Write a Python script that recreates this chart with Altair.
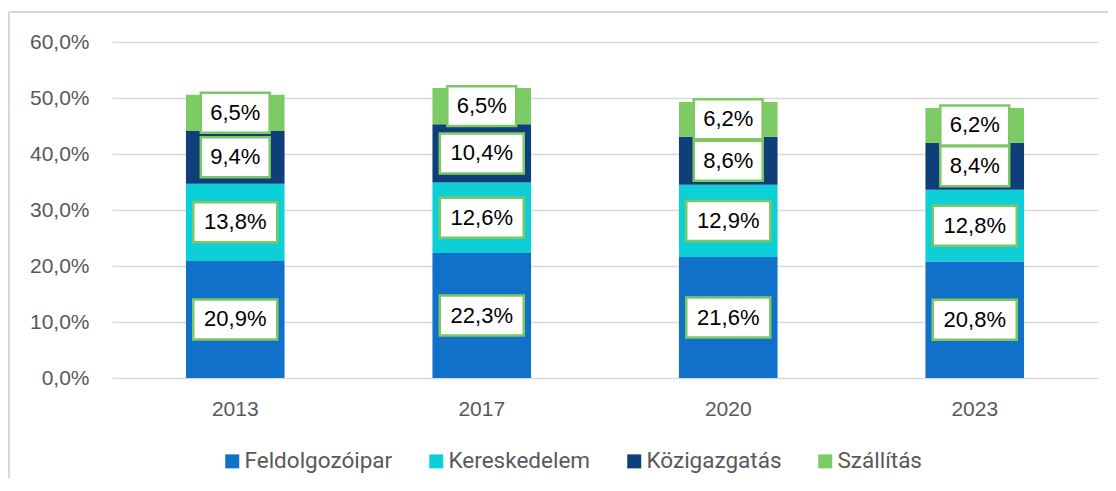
import altair as alt
import pandas as pd

years = ["2013", "2017", "2020", "2023"]
sectors = ["Feldolgozóipar", "Kereskedelem", "Közigazgatás", "Szállítás"]
feldolgozoipar = [20.9, 22.3, 21.6, 20.8]
kereskedelem = [13.8, 12.6, 12.9, 12.8]
kozigazgatas = [9.4, 10.4, 8.6, 8.4]
szallitas = [6.5, 6.5, 6.2, 6.2]
colors = ["#1170C8", "#0DCFD8", "#0E3F78", "#7DCB64"]
y_ticks = [0, 10, 20, 30, 40, 50, 60]

series = [feldolgozoipar, kereskedelem, kozigazgatas, szallitas]
rows = []
for si, (name, vals) in enumerate(zip(sectors, series)):
    for y, v in zip(years, vals):
        rows.append({"year": y, "sector": name, "order": si, "value": v})
df = pd.DataFrame(rows)

FONT = "Liberation Sans"
GRID = "#D9D9D9"

base = alt.Chart(df).transform_stack(
    stack="value", groupby=["year"], sort=[alt.SortField("order")], as_=["y0", "y1"]
).transform_calculate(
    mid="(datum.y0 + datum.y1) / 2",
    label="replace(format(datum.value, '.1f'), '.', ',') + '%'",
    box="length(replace(format(datum.value, '.1f'), '.', ',')) > 3 ? 'M-1,-0.476L1,-0.476L1,0.476L-1,0.476Z' : 'M-0.82,-0.476L0.82,-0.476L0.82,0.476L-0.82,0.476Z'",
)

x_enc = alt.X(
    "year:N",
    title=None,
    sort=years,
    scale=alt.Scale(paddingInner=0.6, paddingOuter=0.3),
    axis=alt.Axis(
        labelAngle=0, domain=False, ticks=False, labelPadding=20,
        labelFont=FONT, labelFontSize=21, labelColor="#595959",
    ),
)

bars = base.mark_bar(stroke=None).encode(
    x=x_enc,
    y=alt.Y(
        "y0:Q",
        title=None,
        scale=alt.Scale(domain=[0, 60], nice=False),
        axis=alt.Axis(
            values=y_ticks, domain=False, ticks=False, labelPadding=23,
            gridColor=GRID, gridWidth=1.5,
            labelFont=FONT, labelFontSize=21, labelColor="#595959",
            labelExpr="replace(format(datum.value, '.1f'), '.', ',') + '%'",
        ),
    ),
    y2="y1:Q",
    color=alt.Color(
        "sector:N",
        scale=alt.Scale(domain=sectors, range=colors),
        legend=alt.Legend(
            title=None, orient="none", direction="horizontal", columns=4,
            legendX=109, legendY=408,
            symbolType="square", symbolSize=196, symbolStrokeWidth=0,
            labelFont="Roboto", labelFontSize=22.5, labelColor="#595959",
            labelOffset=1, columnPadding=32,
        ),
    ),
    order=alt.Order("order:Q"),
)

boxes = base.mark_point(
    filled=True, fill="white", stroke="#7DC864", strokeWidth=2.5, opacity=1, size=7056
).encode(
    x=alt.X("year:N", sort=years),
    y=alt.Y("mid:Q"),
    shape=alt.Shape("box:N", scale=None),
)

texts = base.mark_text(font=FONT, fontSize=22, color="black", baseline="middle").encode(
    x=alt.X("year:N", sort=years),
    y=alt.Y("mid:Q"),
    text="label:N",
)

frame_top = alt.Chart(df).mark_rule(color=GRID, strokeWidth=1.5).encode(
    x=alt.value(-103), x2=alt.value(1010), y=alt.value(-30)
)
frame_left = alt.Chart(df).mark_rule(color=GRID, strokeWidth=1.5).encode(
    x=alt.value(-103), y=alt.value(-30), y2=alt.value(460)
)

chart = alt.layer(frame_top, frame_left, bars, boxes, texts).properties(
    width=986,
    height=336,
    autosize=alt.AutoSizeParams(type="none"),
    padding={"left": 104, "top": 34, "right": 10, "bottom": 100},
).configure_view(stroke=None)

chart.save("out.html", embed_options={"renderer": "svg", "actions": False})
